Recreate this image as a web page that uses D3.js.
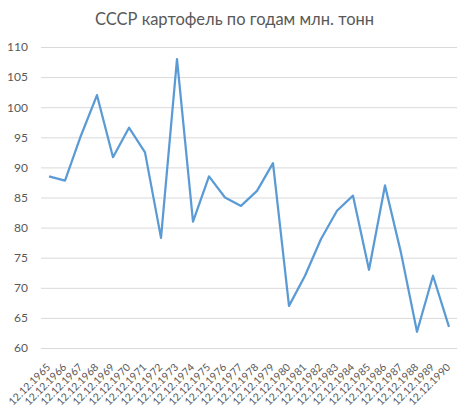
<!DOCTYPE html>
<html>
<head>
<meta charset="utf-8">
<script src="https://cdn.jsdelivr.net/npm/d3@7"></script>
<style>
	body { margin: 0; background: #fff; }
	text { font-family: Lato, "Open Sans", sans-serif; fill: #595959; }
</style>
</head>
<body>
<div id="chart"></div>
<script>
var title = "СССР картофель по годам млн. тонн";
var years = [1965, 1966, 1967, 1968, 1969, 1970, 1971, 1972, 1973, 1974, 1975, 1976, 1977,
	1978, 1979, 1980, 1981, 1982, 1983, 1984, 1985, 1986, 1987, 1988, 1989, 1990];
var values = [88.5, 87.8, 95.3, 102.0, 91.7, 96.6, 92.5, 78.3, 108.0, 81.0, 88.5, 85.0, 83.6,
	86.1, 90.7, 67.0, 72.0, 78.1, 82.8, 85.3, 73.0, 87.0, 75.8, 62.7, 72.0, 63.5];
var yTicks = [60, 65, 70, 75, 80, 85, 90, 95, 100, 105, 110];

var width = 469, height = 415;
var margin = { top: 47, right: 12, bottom: 67, left: 41 };

var labels = years.map(y => "12.12." + y);

var svg = d3.select("#chart").append("svg")
	.attr("width", width)
	.attr("height", height);

svg.append("text")
	.attr("x", width / 2)
	.attr("y", 25)
	.attr("text-anchor", "middle")
	.style("font-size", "16.5px")
	.text(title);

var x = d3.scaleBand()
	.domain(labels)
	.range([margin.left, width - margin.right]);

var y = d3.scaleLinear()
	.domain([60, 110])
	.range([height - margin.bottom, margin.top]);

// gridlines + y labels
var yAxis = svg.append("g")
	.attr("transform", "translate(" + margin.left + ",0)")
	.call(d3.axisLeft(y).tickValues(yTicks).tickSize(-(width - margin.left - margin.right)).tickPadding(13));
yAxis.select(".domain").remove();
yAxis.selectAll("line").style("stroke", "#d9d9d9");
yAxis.selectAll("text").style("font-size", "12px").style("fill", "#595959");

// x labels, rotated
var xAxis = svg.append("g")
	.attr("transform", "translate(0," + (height - margin.bottom) + ")")
	.call(d3.axisBottom(x).tickSize(0).tickPadding(0));
xAxis.select(".domain").remove();
xAxis.selectAll("text")
	.style("font-size", "10.5px")
	.style("fill", "#595959")
	.attr("text-anchor", "end")
	.attr("dy", null)
	.attr("transform", "translate(2,20) rotate(-45)");

var line = d3.line()
	.x((d, i) => x(labels[i]) + x.bandwidth() / 2)
	.y(d => y(d));

svg.append("path")
	.datum(values)
	.attr("d", line)
	.attr("fill", "none")
	.attr("stroke", "#5b9bd5")
	.attr("stroke-width", 2.25)
	.attr("stroke-linejoin", "round");
</script>
</body>
</html>
